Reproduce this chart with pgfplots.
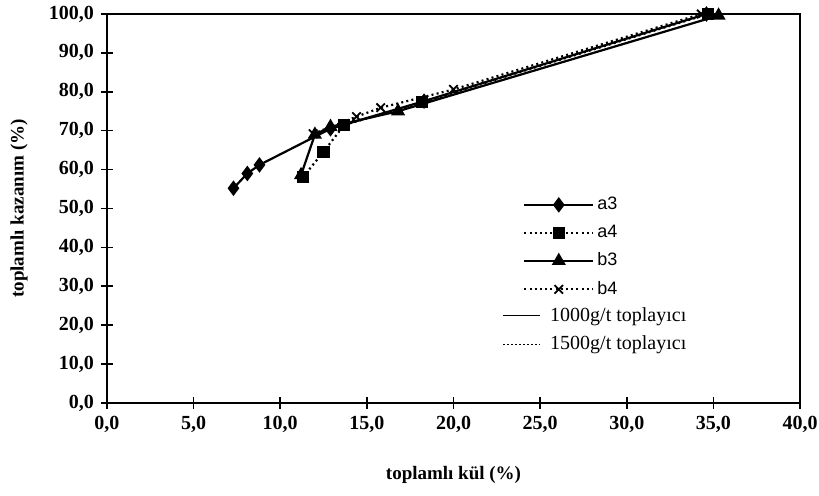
\documentclass[border=0pt]{standalone}
\usepackage{fontspec}
\setmainfont{Liberation Serif}
\newfontfamily\arialf{Liberation Sans}
\usepackage{pgfplots}
\pgfplotsset{compat=1.18}
\pgfplotsset{
  base/.style={
    scale only axis,
    width=346.5pt, height=194.5pt,
    xmin=0, xmax=40, ymin=0, ymax=100,
  },
  dots/.style={dash pattern=on 1pt off 1.6pt},
  longimg/.style={legend image code/.code={\draw[mark repeat=2,mark phase=2,##1] plot coordinates {(0pt,0pt) (17.25pt,0pt) (34.5pt,0pt)};}},
  shortimg/.style={legend image code/.code={\draw[##1] (0pt,0pt) -- (18.5pt,0pt);}},
}
\begin{document}
\begin{tikzpicture}
\begin{axis}[
  base,
  name=ax,
  xtick={0,5,...,40}, ytick={0,10,...,100},
  xtick pos=bottom, ytick pos=left,
  tick align=center,
  major tick length=6pt,
  axis line style={line width=1.2pt},
  tick style={line width=0.8pt, black},
  /pgf/number format/fixed,
  /pgf/number format/fixed zerofill,
  /pgf/number format/precision=1,
  /pgf/number format/use comma,
  /pgf/number format/assume math mode=true,
  ticklabel style={font=\fontsize{10}{12}\selectfont\bfseries},
  xlabel={toplamlı kül (\%)},
  ylabel={toplamlı kazanım (\%)},
  every axis x label/.style={at={(axis description cs:0.5,0)}, anchor=center, yshift=-36pt, font=\fontsize{9.5}{11}\selectfont\bfseries},
  every axis y label/.style={at={(axis description cs:-0.127,0.5)}, anchor=center, rotate=90, font=\fontsize{9.5}{11}\selectfont\bfseries},
  longimg,
  legend style={at={(axis cs:24,53.8)}, anchor=north west, draw=none, fill=none,
    inner sep=0pt, row sep=3.2pt, font=\arialf\fontsize{9}{10}\selectfont,
    nodes={inner sep=1.5pt}},
  legend cell align=left,
]
\addplot[black, line width=1.1pt, mark=diamond*, mark size=3pt, mark options={solid}] coordinates {
  (7.3,55.2) (8.1,59.0) (8.8,61.2) (12.9,70.5) (18.3,77.6) (34.6,100.0)};
\addlegendentry{a3}
\addplot[black, line width=1.1pt, dots, mark=square*, mark size=2.5pt, mark options={solid}] coordinates {
  (11.3,58.0) (12.5,64.6) (13.7,71.5) (18.2,77.3) (34.7,100.0)};
\addlegendentry{a4}
\addplot[black, line width=1.1pt, mark=triangle*, mark size=3pt, mark options={solid}] coordinates {
  (11.2,58.6) (12.0,69.0) (12.9,71.0) (16.8,75.0) (35.3,99.6)};
\addlegendentry{b3}
\addplot[black, line width=1.1pt, dots, mark=x, mark size=3pt, mark options={solid, line width=0.9pt}] coordinates {
  (11.9,69.2) (14.4,73.6) (15.8,75.9) (20.0,80.6) (34.3,100.0)};
\addlegendentry{b4}
\end{axis}
\begin{axis}[
  base,
  at={(ax.south west)}, anchor=south west,
  hide axis,
  shortimg,
  legend style={at={(axis cs:22.8,25.5)}, anchor=north west, draw=none, fill=none,
    inner sep=0pt, row sep=3pt, font=\fontsize{10}{11}\selectfont,
    nodes={inner sep=1.5pt},
    /tikz/every odd column/.append style={column sep=3pt}},
  legend cell align=left,
]
\addlegendimage{black, line width=0.8pt}
\addlegendentry{1000g/t toplayıcı}
\addlegendimage{black, line width=0.9pt, dash pattern=on 0.6pt off 1.4pt}
\addlegendentry{1500g/t toplayıcı}
\end{axis}
\pgfresetboundingbox
\path (ax.south west) ++(-53.5pt,-46.5pt) rectangle ++(409.5pt,248pt);
\end{tikzpicture}
\end{document}
